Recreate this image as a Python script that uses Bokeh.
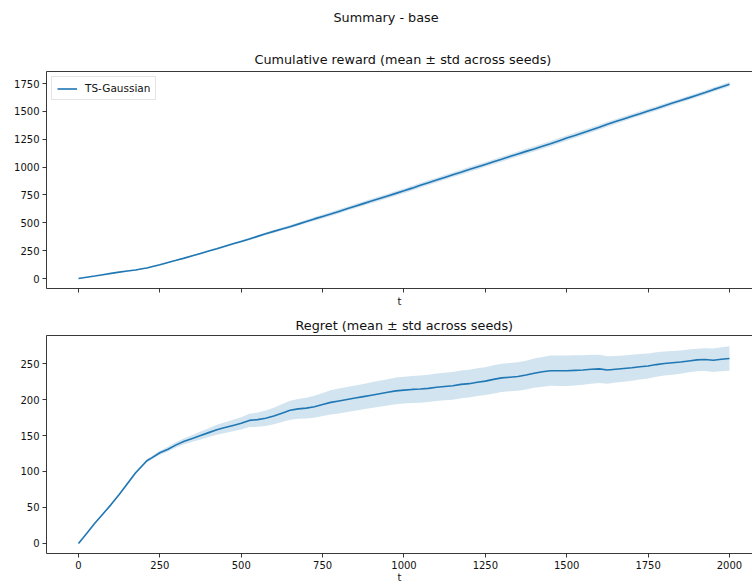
from bokeh.plotting import figure
from bokeh.models import Range1d, FixedTicker, LinearAxis, Title, ColumnDataSource
from bokeh.layouts import column
from bokeh.embed import file_html
from bokeh.resources import INLINE

# ---------------- data ----------------
t = [0, 25, 50, 75, 100, 125, 150, 175, 200, 210,
     225, 250, 275, 300, 325, 350, 375, 400, 425, 450,
     475, 500, 525, 550, 575, 600, 625, 650, 675, 700,
     725, 750, 775, 800, 825, 850, 875, 900, 925, 950,
     975, 1000, 1025, 1050, 1075, 1100, 1125, 1150, 1175, 1200,
     1225, 1250, 1275, 1300, 1325, 1350, 1375, 1400, 1425, 1450,
     1475, 1500, 1525, 1550, 1575, 1600, 1625, 1650, 1675, 1700,
     1725, 1750, 1775, 1800, 1825, 1850, 1875, 1900, 1925, 1950,
     1975, 2000]

reward_mean = [0, 11, 22, 34, 46, 57, 67, 77, 90, 95,
               106, 124, 144, 163, 183, 204, 225, 246, 267, 289,
               311, 333, 354, 378, 401, 423, 444, 465, 488, 512,
               535, 557, 578, 602, 626, 649, 672, 695, 718, 741,
               764, 787, 811, 836, 860, 883, 907, 931, 954, 978,
               1001, 1024, 1047, 1070, 1094, 1118, 1141, 1163, 1186, 1210,
               1235, 1260, 1284, 1309, 1333, 1357, 1384, 1408, 1432, 1456,
               1479, 1503, 1526, 1550, 1574, 1598, 1621, 1645, 1669, 1695,
               1719, 1743]

reward_std = [0, 1, 1, 2, 2, 2, 3, 3, 3, 3,
              4, 4, 5, 5, 6, 6, 7, 7, 8, 9,
              9, 10, 11, 11, 12, 13, 14, 15, 15, 16,
              17, 18, 18, 19, 19, 19, 19, 20, 20, 20,
              21, 21, 21, 21, 21, 21, 21, 21, 22, 22,
              22, 22, 22, 22, 22, 22, 23, 23, 23, 23,
              24, 24, 24, 24, 23, 23, 22, 22, 21, 21,
              21, 20, 20, 20, 19, 19, 19, 19, 19, 19,
              20, 20]

regret_mean = [0, 14, 28, 41, 54, 68, 83, 98, 110, 115,
               119, 126, 131, 137, 142, 146, 150, 154, 158, 161,
               164, 167, 171, 172, 174, 177, 181, 185, 187, 188,
               190, 193, 196, 198, 200, 202, 204, 206, 208, 210,
               212, 213, 214, 214.5, 215.5, 217, 218, 219, 221, 222,
               224, 225.5, 228, 230, 231, 232, 234, 236.5, 238.5, 240,
               240, 240, 240.5, 241, 242, 242.5, 241, 242, 243, 244,
               245.5, 246.5, 248.5, 250, 251, 252, 253.5, 255, 255.5, 254.5,
               256, 257]

regret_std = [0, 0.5, 0.8, 1, 1.2, 1.4, 1.6, 1.8, 2, 2.1,
              2.3, 2.8, 3.3, 3.8, 4.3, 4.8, 5.4, 6, 6.8, 7.4,
              8, 8.5, 9.3, 10, 10.8, 11.5, 12.3, 13.2, 13.8, 14.5,
              15.3, 16, 16.8, 17.3, 17.5, 17.5, 17.5, 17.8, 18, 18.3,
              18.5, 18.6, 18.8, 19, 19, 19, 19.1, 19.2, 19.2, 19.2,
              19.3, 19.4, 19.5, 19.6, 19.7, 19.8, 20, 20.3, 20.7, 21,
              21.2, 21.2, 21, 20.6, 20, 19.5, 19, 18.5, 18.2, 18,
              17.6, 17.3, 17, 16.8, 16.5, 16.2, 15.8, 15.6, 15.8, 16.2,
              16.7, 17]

x_ticks = [0, 250, 500, 750, 1000, 1250, 1500, 1750, 2000]
reward_ticks = [0, 250, 500, 750, 1000, 1250, 1500, 1750]
regret_ticks = [0, 50, 100, 150, 200, 250]

series_name = "TS-Gaussian"
suptitle = "Summary - base"
title_top = "Cumulative reward (mean \u00b1 std across seeds)"
title_bottom = "Regret (mean \u00b1 std across seeds)"
x_label = "t"

# ---------------- style ----------------
FONT = "DejaVu Sans"
BLUE = "#1f77b4"
AX = "#222222"
TXT = "#111111"
X_RANGE = (-98.3, 2070.7)

src = ColumnDataSource(dict(
    t=t,
    rew=reward_mean,
    rew_lo=[m - s for m, s in zip(reward_mean, reward_std)],
    rew_hi=[m + s for m, s in zip(reward_mean, reward_std)],
    reg=regret_mean,
    reg_lo=[m - s for m, s in zip(regret_mean, regret_std)],
    reg_hi=[m + s for m, s in zip(regret_mean, regret_std)],
))


def style_axis(ax, ticks, labels=True):
    ax.ticker = FixedTicker(ticks=ticks)
    ax.axis_line_color = AX
    ax.axis_line_width = 0.9
    ax.major_tick_line_color = AX
    ax.major_tick_line_width = 0.9
    ax.major_tick_out = 4
    ax.major_tick_in = 0
    ax.minor_tick_line_color = None
    ax.major_label_text_font = FONT
    if labels:
        ax.major_label_text_font_size = "10px"
        ax.major_label_text_color = TXT
        ax.major_label_standoff = 3
    else:
        # shared x axis: ticks only, labels not painted
        ax.major_label_text_font_size = "1px"
        ax.major_label_text_color = None
        ax.major_label_text_alpha = 0
        ax.major_label_standoff = 0
    ax.axis_label_text_font = FONT
    ax.axis_label_text_font_size = "10px"
    ax.axis_label_text_font_style = "normal"
    ax.axis_label_text_color = TXT


def top_spine():
    a = LinearAxis(ticker=FixedTicker(ticks=[]))
    a.axis_line_color = AX
    a.axis_line_width = 0.9
    a.major_tick_line_color = None
    a.minor_tick_line_color = None
    a.major_tick_out = 0
    a.major_label_standoff = 0
    a.major_label_text_font_size = "1px"
    a.major_label_text_color = None
    return a


def make_title(text, offset, standoff):
    return Title(text=text, align="left", offset=offset, standoff=standoff,
                 text_font=FONT, text_font_size="12.8px",
                 text_font_style="normal", text_color=TXT)


def make_fig(y_range, frame_h, top, bottom):
    p = figure(frame_width=706, frame_height=frame_h,
               x_range=Range1d(*X_RANGE), y_range=y_range,
               output_backend="svg", toolbar_location=None,
               title_location=None,
               min_border_left=46, min_border_right=0,
               min_border_top=top, min_border_bottom=bottom)
    p.outline_line_color = None
    p.xgrid.visible = False
    p.ygrid.visible = False
    p.background_fill_color = "white"
    p.border_fill_color = "white"
    return p


# ---------------- figure-level title (suptitle) ----------------
p0 = make_fig(Range1d(0, 1), 1, 30, 0)
p0.xaxis.visible = False
p0.yaxis.visible = False
p0.add_layout(make_title(suptitle, 287, 12), "above")

# ---------------- top: cumulative reward ----------------
p1 = make_fig(Range1d(-89.7, 1857.7), 217, 40, 22)
p1.varea(x="t", y1="rew_lo", y2="rew_hi", source=src,
         fill_color=BLUE, fill_alpha=0.2)
p1.line(x="t", y="rew", source=src, line_color=BLUE, line_width=1.6,
        legend_label=series_name)
style_axis(p1.xaxis[0], x_ticks, labels=False)
p1.xaxis[0].axis_label = x_label
p1.xaxis[0].axis_label_standoff = 3
style_axis(p1.yaxis[0], reward_ticks)
p1.add_layout(top_spine(), "above")
p1.add_layout(make_title(title_top, 208, 9), "above")

lg = p1.legend[0]
lg.location = "top_left"
lg.margin = 5
lg.padding = 5
lg.spacing = 0
lg.glyph_width = 20
lg.glyph_height = 11
lg.label_height = 11
lg.label_standoff = 8
lg.label_text_font = FONT
lg.label_text_font_size = "10.5px"
lg.label_text_color = TXT
lg.border_line_color = "#cccccc"
lg.border_line_width = 1
lg.background_fill_color = "white"
lg.background_fill_alpha = 0.8

# ---------------- bottom: regret ----------------
p2 = make_fig(Range1d(-13.9, 288.9), 218, 25, 32)
p2.varea(x="t", y1="reg_lo", y2="reg_hi", source=src,
         fill_color=BLUE, fill_alpha=0.2)
p2.line(x="t", y="reg", source=src, line_color=BLUE, line_width=1.6)
style_axis(p2.xaxis[0], x_ticks)
p2.xaxis[0].major_label_standoff = 3
p2.xaxis[0].axis_label = x_label
p2.xaxis[0].axis_label_standoff = 0
style_axis(p2.yaxis[0], regret_ticks)
p2.add_layout(top_spine(), "above")
p2.add_layout(make_title(title_bottom, 249, 5), "above")

layout = column(p0, p1, p2, spacing=0)

open("out.html", "w").write(file_html(layout, INLINE))
